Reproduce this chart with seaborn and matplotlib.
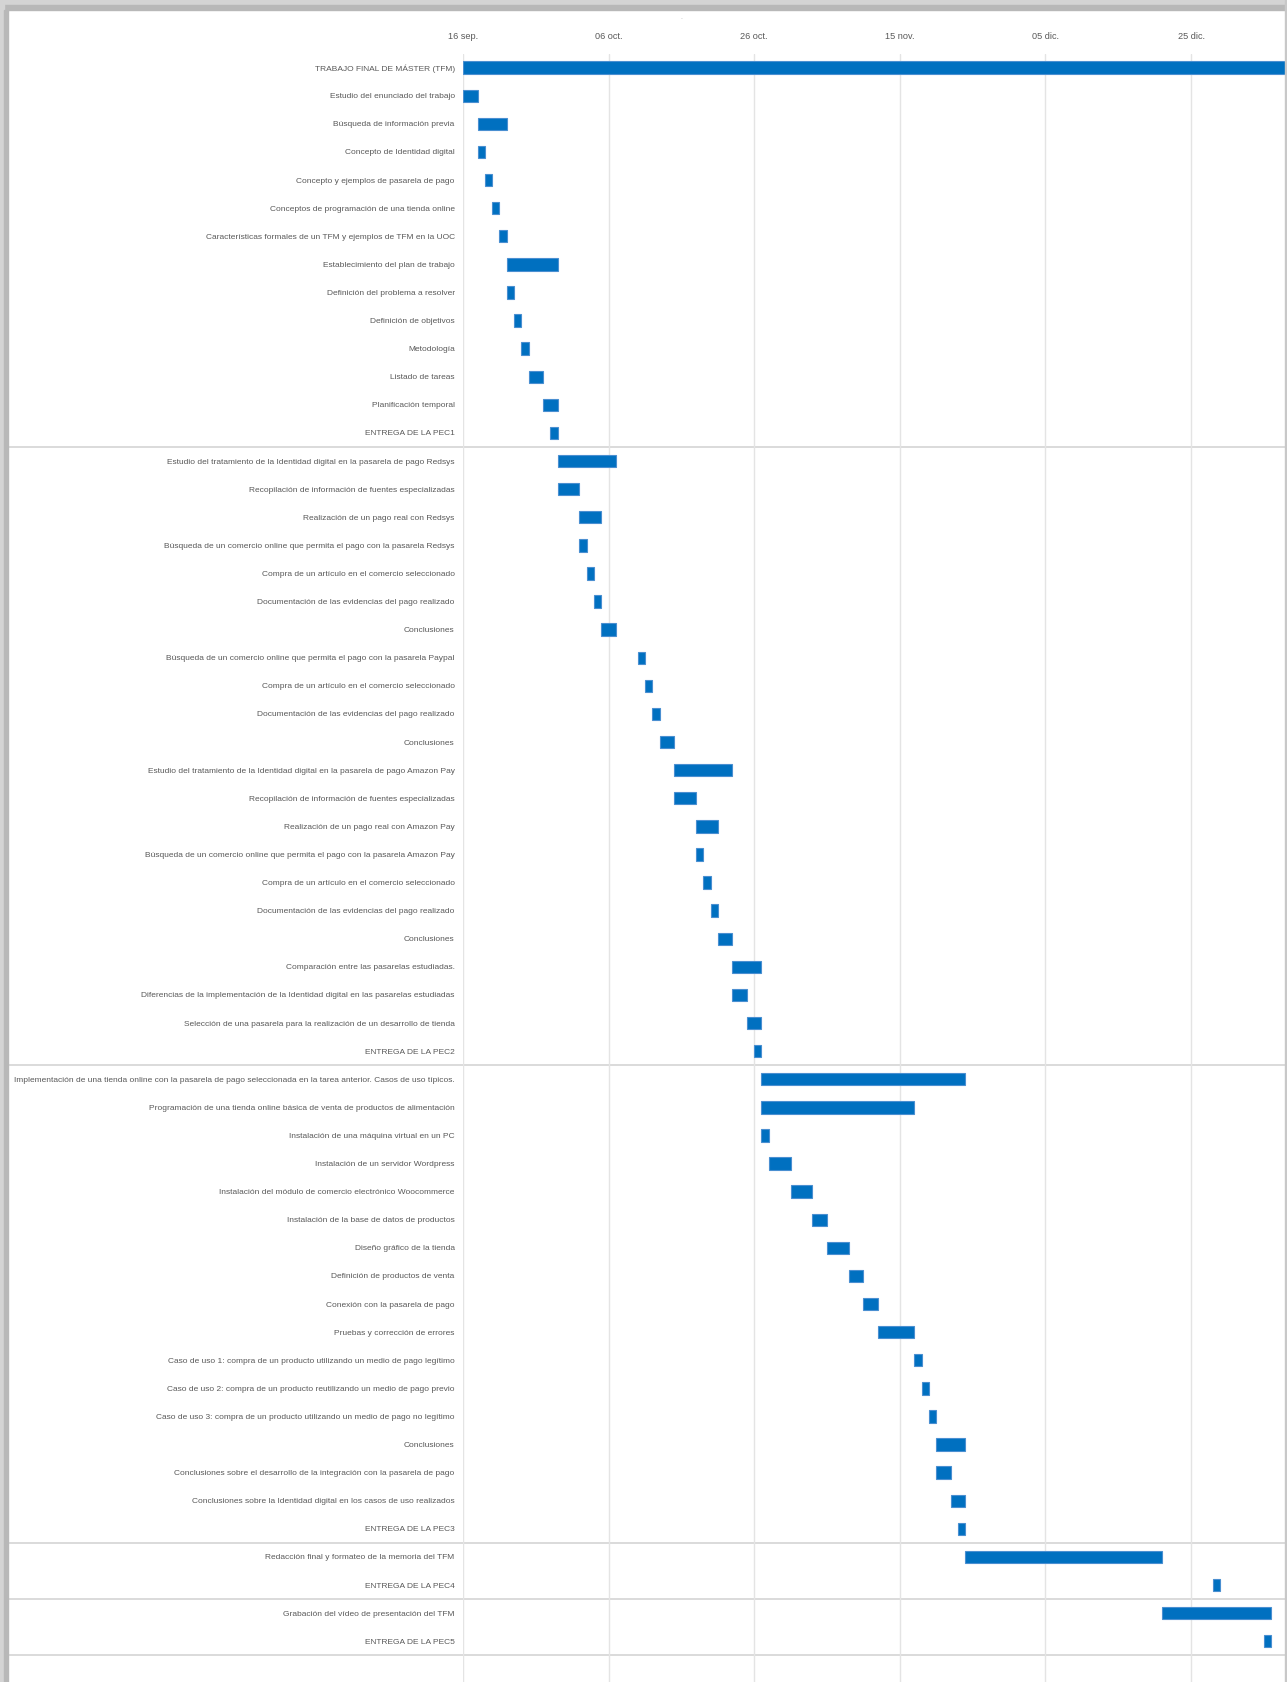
import numpy as np
import pandas as pd
import matplotlib
matplotlib.use("Agg")
import matplotlib.pyplot as plt
from matplotlib.patches import Rectangle
import seaborn as sns

# task names, in chart order (top to bottom)
tasks = [
    "TRABAJO FINAL DE MÁSTER (TFM)",
    "Estudio del enunciado del trabajo",
    "Búsqueda de información previa",
    "Concepto de Identidad digital",
    "Concepto y ejemplos de pasarela de pago",
    "Conceptos de programación de una tienda online",
    "Características formales de un TFM y ejemplos de TFM en la UOC",
    "Establecimiento del plan de trabajo",
    "Definición del problema a resolver",
    "Definición de objetivos",
    "Metodología",
    "Listado de tareas",
    "Planificación temporal",
    "ENTREGA DE LA PEC1",
    "Estudio del tratamiento de la Identidad digital en la pasarela de pago Redsys",
    "Recopilación de información de fuentes especializadas",
    "Realización de un pago real con Redsys",
    "Búsqueda de un comercio online que permita el pago con la pasarela Redsys",
    "Compra de un artículo en el comercio seleccionado",
    "Documentación de las evidencias del pago realizado",
    "Conclusiones",
    "Búsqueda de un comercio online que permita el pago con la pasarela Paypal",
    "Compra de un artículo en el comercio seleccionado",
    "Documentación de las evidencias del pago realizado",
    "Conclusiones",
    "Estudio del tratamiento de la Identidad digital en la pasarela de pago Amazon Pay",
    "Recopilación de información de fuentes especializadas",
    "Realización de un pago real con Amazon Pay",
    "Búsqueda de un comercio online que permita el pago con la pasarela Amazon Pay",
    "Compra de un artículo en el comercio seleccionado",
    "Documentación de las evidencias del pago realizado",
    "Conclusiones",
    "Comparación entre las pasarelas estudiadas.",
    "Diferencias de la implementación de la Identidad digital en las pasarelas estudiadas",
    "Selección de una pasarela para la realización de un desarrollo de tienda",
    "ENTREGA DE LA PEC2",
    "Implementación de una tienda online con la pasarela de pago seleccionada en la tarea anterior. Casos de uso típicos.",
    "Programación de una tienda online básica de venta de productos de alimentación",
    "Instalación de una máquina virtual en un PC",
    "Instalación de un servidor Wordpress",
    "Instalación del módulo de comercio electrónico Woocommerce",
    "Instalación de la base de datos de productos",
    "Diseño gráfico de la tienda",
    "Definición de productos de venta",
    "Conexión con la pasarela de pago",
    "Pruebas y corrección de errores",
    "Caso de uso 1: compra de un producto utilizando un medio de pago legítimo",
    "Caso de uso 2: compra de un producto reutilizando un medio de pago previo",
    "Caso de uso 3: compra de un producto utilizando un medio de pago no legítimo",
    "Conclusiones",
    "Conclusiones sobre el desarrollo de la integración con la pasarela de pago",
    "Conclusiones sobre la Identidad digital en los casos de uso realizados",
    "ENTREGA DE LA PEC3",
    "Redacción final y formateo de la memoria del TFM",
    "ENTREGA DE LA PEC4",
    "Grabación del vídeo de presentación del TFM",
    "ENTREGA DE LA PEC5",
]

# start day (days after 16 sep.) and duration in days
start_day = [0, 0, 2, 2, 3, 4, 5, 6, 6, 7, 8, 9, 11, 12,
             13, 13, 16, 16, 17, 18, 19, 24, 25, 26, 27,
             29, 29, 32, 32, 33, 34, 35, 37, 37, 39, 40,
             41, 41, 41, 42, 45, 48, 50, 53, 55, 57, 62, 63, 64, 65, 65, 67, 68,
             69, 103, 96, 110]
duration = [118, 2, 4, 1, 1, 1, 1, 7, 1, 1, 1, 2, 2, 1,
            8, 3, 3, 1, 1, 1, 2, 1, 1, 1, 2,
            8, 3, 3, 1, 1, 1, 2, 4, 2, 2, 1,
            28, 21, 1, 3, 3, 2, 3, 2, 2, 5, 1, 1, 1, 4, 2, 2, 1,
            27, 1, 15, 1]

# x ticks: every 20 days from 16 sep.
tick_days = [0, 20, 40, 60, 80, 100]
tick_labels = ["16 sep.", "06 oct.", "26 oct.", "15 nov.", "05 dic.", "25 dic."]

# rows after which a group separator is drawn
group_ends = [13, 35, 52, 54, 56]

df = pd.DataFrame({"row": np.arange(len(tasks)), "dur": duration, "start": start_day})

sns.set_theme(style="white")
plt.rcParams["font.family"] = ["Liberation Sans", "DejaVu Sans"]

W, H = 1287, 1682
fig = plt.figure(figsize=(W / 100, H / 100), dpi=100)
fig.patch.set_facecolor("white")

# shadow frame around the pasted chart
fig.patches.append(Rectangle((0, 1 - 5 / H), 1, 5 / H, transform=fig.transFigure,
                             color="#d4d4d4", zorder=0))
fig.patches.append(Rectangle((0, 1 - 10 / H), 1, 5 / H, transform=fig.transFigure,
                             color="#b8b8b8", zorder=0))
fig.patches.append(Rectangle((0, 0), 4 / W, 1, transform=fig.transFigure,
                             color="#d4d4d4", zorder=0))
fig.patches.append(Rectangle((4 / W, 0), 4 / W, 1 - 10 / H, transform=fig.transFigure,
                             color="#b8b8b8", zorder=0))
fig.patches.append(Rectangle((1 - 2 / W, 0), 2 / W, 1, transform=fig.transFigure,
                             color="#c8c8c8", zorder=0))

ax_left, ax_top = 463, 53.6
ax = fig.add_axes([ax_left / W, 0, (W - ax_left) / W, (H - ax_top) / H])

sns.barplot(data=df, x="dur", y="row", orient="y", left=df["start"].to_numpy(),
            color="#0070C0", width=0.44, errorbar=None,
            edgecolor="#4a8fd1", linewidth=0.8, saturation=1, ax=ax)

ax.set_xlim(0, (W - ax_left) / 7.28)
ax.set_ylim(len(tasks) - 1 + 1.45, -0.5)
ax.xaxis.tick_top()
ax.set_xticks(tick_days)
ax.set_xticklabels(tick_labels)
ax.set_yticks(np.arange(len(tasks)))
ax.set_yticklabels(tasks)
ax.tick_params(axis="x", length=0, pad=9, labelsize=6.6, labelcolor="#595959")
ax.tick_params(axis="y", length=0, pad=6, labelsize=6.0, labelcolor="#595959")
ax.set_xlabel("")
ax.set_ylabel("")
ax.grid(axis="x", color="#e4e4e4", linewidth=1)
ax.set_axisbelow(True)
for s in ax.spines.values():
    s.set_visible(False)

# separators between the PEC groups
for r in group_ends:
    ax.axhline(r + 0.5, xmin=-(ax_left - 8) / (W - ax_left), xmax=1,
               color="#dadada", linewidth=1.4, clip_on=False, zorder=0)

fig.text(682 / W, 1 - 19 / H, "-", color="#bbbbbb", fontsize=4, ha="center", va="center")

fig.savefig("out.png", dpi=100)
